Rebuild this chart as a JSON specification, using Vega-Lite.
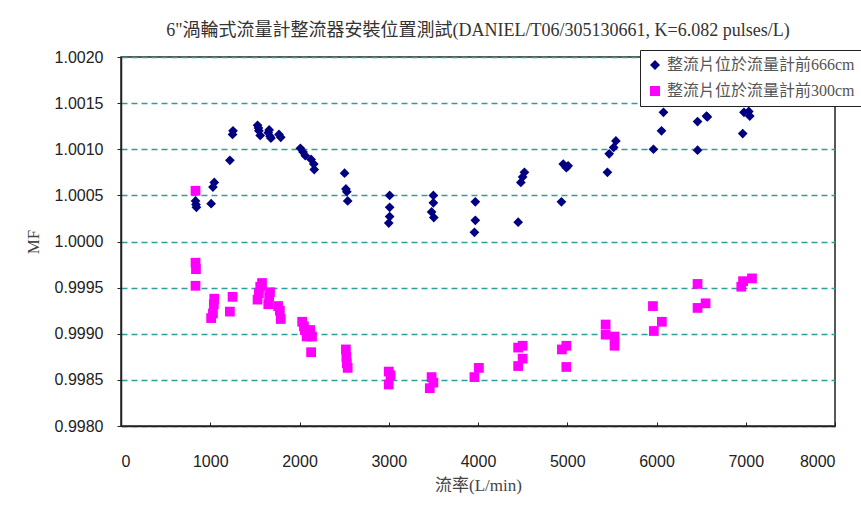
{
  "$schema": "https://vega.github.io/schema/vega-lite/v6.json",
  "autosize": {"type": "none"},
  "width": 714,
  "height": 369,
  "padding": {"left": 121, "top": 57, "right": 26, "bottom": 79},
  "background": "white",
  "title": {
    "text": "6\"渦輪式流量計整流器安裝位置測試(DANIEL/T06/305130661, K=6.082 pulses/L)",
    "font": "Liberation Serif, Noto Sans CJK TC",
    "fontSize": 18,
    "fontWeight": "normal",
    "color": "#333333",
    "anchor": "middle",
    "offset": 9
  },
  "config": {
    "view": {"stroke": "#222222", "strokeWidth": 1.5},
    "axis": {
      "labelFont": "Liberation Sans Narrow, Liberation Sans",
      "labelFontSize": 16,
      "labelColor": "#222222",
      "titleFont": "Liberation Serif, Noto Sans CJK TC",
      "titleFontSize": 17,
      "titleFontWeight": "normal",
      "titleColor": "#444444",
      "domainColor": "#222222",
      "domainWidth": 1.5,
      "tickColor": "#222222"
    }
  },
  "data": {"values": [
    {"q": 835, "mf": 1.00044, "s": "整流片位於流量計前666cm"},
    {"q": 840, "mf": 1.00040, "s": "整流片位於流量計前666cm"},
    {"q": 845, "mf": 1.00037, "s": "整流片位於流量計前666cm"},
    {"q": 1010, "mf": 1.00041, "s": "整流片位於流量計前666cm"},
    {"q": 1030, "mf": 1.00059, "s": "整流片位於流量計前666cm"},
    {"q": 1045, "mf": 1.00064, "s": "整流片位於流量計前666cm"},
    {"q": 1220, "mf": 1.00088, "s": "整流片位於流量計前666cm"},
    {"q": 1250, "mf": 1.00116, "s": "整流片位於流量計前666cm"},
    {"q": 1255, "mf": 1.00120, "s": "整流片位於流量計前666cm"},
    {"q": 1530, "mf": 1.00126, "s": "整流片位於流量計前666cm"},
    {"q": 1540, "mf": 1.00123, "s": "整流片位於流量計前666cm"},
    {"q": 1545, "mf": 1.00120, "s": "整流片位於流量計前666cm"},
    {"q": 1560, "mf": 1.00115, "s": "整流片位於流量計前666cm"},
    {"q": 1650, "mf": 1.00118, "s": "整流片位於流量計前666cm"},
    {"q": 1660, "mf": 1.00121, "s": "整流片位於流量計前666cm"},
    {"q": 1670, "mf": 1.00114, "s": "整流片位於流量計前666cm"},
    {"q": 1680, "mf": 1.00112, "s": "整流片位於流量計前666cm"},
    {"q": 1770, "mf": 1.00116, "s": "整流片位於流量計前666cm"},
    {"q": 1790, "mf": 1.00113, "s": "整流片位於流量計前666cm"},
    {"q": 2010, "mf": 1.00101, "s": "整流片位於流量計前666cm"},
    {"q": 2040, "mf": 1.00097, "s": "整流片位於流量計前666cm"},
    {"q": 2065, "mf": 1.00093, "s": "整流片位於流量計前666cm"},
    {"q": 2130, "mf": 1.00089, "s": "整流片位於流量計前666cm"},
    {"q": 2160, "mf": 1.00084, "s": "整流片位於流量計前666cm"},
    {"q": 2165, "mf": 1.00078, "s": "整流片位於流量計前666cm"},
    {"q": 2505, "mf": 1.00074, "s": "整流片位於流量計前666cm"},
    {"q": 2520, "mf": 1.00057, "s": "整流片位於流量計前666cm"},
    {"q": 2530, "mf": 1.00054, "s": "整流片位於流量計前666cm"},
    {"q": 2540, "mf": 1.00044, "s": "整流片位於流量計前666cm"},
    {"q": 3010, "mf": 1.00050, "s": "整流片位於流量計前666cm"},
    {"q": 3010, "mf": 1.00037, "s": "整流片位於流量計前666cm"},
    {"q": 3010, "mf": 1.00027, "s": "整流片位於流量計前666cm"},
    {"q": 3000, "mf": 1.00020, "s": "整流片位於流量計前666cm"},
    {"q": 3500, "mf": 1.00050, "s": "整流片位於流量計前666cm"},
    {"q": 3500, "mf": 1.00042, "s": "整流片位於流量計前666cm"},
    {"q": 3480, "mf": 1.00032, "s": "整流片位於流量計前666cm"},
    {"q": 3505, "mf": 1.00026, "s": "整流片位於流量計前666cm"},
    {"q": 3970, "mf": 1.00043, "s": "整流片位於流量計前666cm"},
    {"q": 3970, "mf": 1.00023, "s": "整流片位於流量計前666cm"},
    {"q": 3960, "mf": 1.00010, "s": "整流片位於流量計前666cm"},
    {"q": 4450, "mf": 1.00021, "s": "整流片位於流量計前666cm"},
    {"q": 4480, "mf": 1.00064, "s": "整流片位於流量計前666cm"},
    {"q": 4500, "mf": 1.00070, "s": "整流片位於流量計前666cm"},
    {"q": 4520, "mf": 1.00075, "s": "整流片位於流量計前666cm"},
    {"q": 4935, "mf": 1.00043, "s": "整流片位於流量計前666cm"},
    {"q": 4955, "mf": 1.00084, "s": "整流片位於流量計前666cm"},
    {"q": 4990, "mf": 1.00080, "s": "整流片位於流量計前666cm"},
    {"q": 5010, "mf": 1.00082, "s": "整流片位於流量計前666cm"},
    {"q": 5450, "mf": 1.00075, "s": "整流片位於流量計前666cm"},
    {"q": 5470, "mf": 1.00095, "s": "整流片位於流量計前666cm"},
    {"q": 5520, "mf": 1.00102, "s": "整流片位於流量計前666cm"},
    {"q": 5545, "mf": 1.00109, "s": "整流片位於流量計前666cm"},
    {"q": 5966, "mf": 1.00100, "s": "整流片位於流量計前666cm"},
    {"q": 6056, "mf": 1.00120, "s": "整流片位於流量計前666cm"},
    {"q": 6078, "mf": 1.00140, "s": "整流片位於流量計前666cm"},
    {"q": 6460, "mf": 1.00099, "s": "整流片位於流量計前666cm"},
    {"q": 6460, "mf": 1.00130, "s": "整流片位於流量計前666cm"},
    {"q": 6560, "mf": 1.00136, "s": "整流片位於流量計前666cm"},
    {"q": 6570, "mf": 1.00135, "s": "整流片位於流量計前666cm"},
    {"q": 6966, "mf": 1.00117, "s": "整流片位於流量計前666cm"},
    {"q": 6980, "mf": 1.00140, "s": "整流片位於流量計前666cm"},
    {"q": 7034, "mf": 1.00141, "s": "整流片位於流量計前666cm"},
    {"q": 7045, "mf": 1.00136, "s": "整流片位於流量計前666cm"},
    {"q": 835, "mf": 1.00055, "s": "整流片位於流量計前300cm"},
    {"q": 835, "mf": 0.99977, "s": "整流片位於流量計前300cm"},
    {"q": 840, "mf": 0.99970, "s": "整流片位於流量計前300cm"},
    {"q": 835, "mf": 0.99952, "s": "整流片位於流量計前300cm"},
    {"q": 1010, "mf": 0.99917, "s": "整流片位於流量計前300cm"},
    {"q": 1030, "mf": 0.99922, "s": "整流片位於流量計前300cm"},
    {"q": 1040, "mf": 0.99932, "s": "整流片位於流量計前300cm"},
    {"q": 1045, "mf": 0.99938, "s": "整流片位於流量計前300cm"},
    {"q": 1220, "mf": 0.99924, "s": "整流片位於流量計前300cm"},
    {"q": 1250, "mf": 0.99940, "s": "整流片位於流量計前300cm"},
    {"q": 1530, "mf": 0.99937, "s": "整流片位於流量計前300cm"},
    {"q": 1545, "mf": 0.99944, "s": "整流片位於流量計前300cm"},
    {"q": 1560, "mf": 0.99951, "s": "整流片位於流量計前300cm"},
    {"q": 1580, "mf": 0.99955, "s": "整流片位於流量計前300cm"},
    {"q": 1650, "mf": 0.99932, "s": "整流片位於流量計前300cm"},
    {"q": 1660, "mf": 0.99940, "s": "整流片位於流量計前300cm"},
    {"q": 1670, "mf": 0.99945, "s": "整流片位於流量計前300cm"},
    {"q": 1760, "mf": 0.99930, "s": "整流片位於流量計前300cm"},
    {"q": 1780, "mf": 0.99925, "s": "整流片位於流量計前300cm"},
    {"q": 1790, "mf": 0.99916, "s": "整流片位於流量計前300cm"},
    {"q": 2030, "mf": 0.99913, "s": "整流片位於流量計前300cm"},
    {"q": 2050, "mf": 0.99908, "s": "整流片位於流量計前300cm"},
    {"q": 2060, "mf": 0.99904, "s": "整流片位於流量計前300cm"},
    {"q": 2080, "mf": 0.99897, "s": "整流片位於流量計前300cm"},
    {"q": 2120, "mf": 0.99904, "s": "整流片位於流量計前300cm"},
    {"q": 2140, "mf": 0.99897, "s": "整流片位於流量計前300cm"},
    {"q": 2130, "mf": 0.99880, "s": "整流片位於流量計前300cm"},
    {"q": 2520, "mf": 0.99883, "s": "整流片位於流量計前300cm"},
    {"q": 2525, "mf": 0.99875, "s": "整流片位於流量計前300cm"},
    {"q": 2530, "mf": 0.99868, "s": "整流片位於流量計前300cm"},
    {"q": 2540, "mf": 0.99863, "s": "整流片位於流量計前300cm"},
    {"q": 3000, "mf": 0.99859, "s": "整流片位於流量計前300cm"},
    {"q": 3020, "mf": 0.99855, "s": "整流片位於流量計前300cm"},
    {"q": 3000, "mf": 0.99845, "s": "整流片位於流量計前300cm"},
    {"q": 3480, "mf": 0.99853, "s": "整流片位於流量計前300cm"},
    {"q": 3500, "mf": 0.99847, "s": "整流片位於流量計前300cm"},
    {"q": 3460, "mf": 0.99841, "s": "整流片位於流量計前300cm"},
    {"q": 3960, "mf": 0.99853, "s": "整流片位於流量計前300cm"},
    {"q": 4010, "mf": 0.99863, "s": "整流片位於流量計前300cm"},
    {"q": 4450, "mf": 0.99885, "s": "整流片位於流量計前300cm"},
    {"q": 4500, "mf": 0.99887, "s": "整流片位於流量計前300cm"},
    {"q": 4500, "mf": 0.99873, "s": "整流片位於流量計前300cm"},
    {"q": 4450, "mf": 0.99865, "s": "整流片位於流量計前300cm"},
    {"q": 4940, "mf": 0.99883, "s": "整流片位於流量計前300cm"},
    {"q": 4990, "mf": 0.99887, "s": "整流片位於流量計前300cm"},
    {"q": 4990, "mf": 0.99864, "s": "整流片位於流量計前300cm"},
    {"q": 5430, "mf": 0.99910, "s": "整流片位於流量計前300cm"},
    {"q": 5430, "mf": 0.99899, "s": "整流片位於流量計前300cm"},
    {"q": 5530, "mf": 0.99897, "s": "整流片位於流量計前300cm"},
    {"q": 5530, "mf": 0.99887, "s": "整流片位於流量計前300cm"},
    {"q": 5960, "mf": 0.99930, "s": "整流片位於流量計前300cm"},
    {"q": 5970, "mf": 0.99903, "s": "整流片位於流量計前300cm"},
    {"q": 6060, "mf": 0.99913, "s": "整流片位於流量計前300cm"},
    {"q": 6460, "mf": 0.99954, "s": "整流片位於流量計前300cm"},
    {"q": 6460, "mf": 0.99928, "s": "整流片位於流量計前300cm"},
    {"q": 6550, "mf": 0.99933, "s": "整流片位於流量計前300cm"},
    {"q": 6950, "mf": 0.99951, "s": "整流片位於流量計前300cm"},
    {"q": 6970, "mf": 0.99957, "s": "整流片位於流量計前300cm"},
    {"q": 7070, "mf": 0.99960, "s": "整流片位於流量計前300cm"}
  ]},
  "mark": {"type": "point", "filled": true, "opacity": 1, "size": 95},
  "encoding": {
    "x": {
      "field": "q", "type": "quantitative",
      "scale": {"domain": [0, 8000], "nice": false},
      "axis": {
        "title": "流率(L/min)",
        "format": "d",
        "values": [0, 1000, 2000, 3000, 4000, 5000, 6000, 7000, 8000],
        "grid": false,
        "tickSize": -4,
        "labelPadding": 31,
        "titlePadding": 8
      }
    },
    "y": {
      "field": "mf", "type": "quantitative",
      "scale": {"domain": [0.998, 1.002], "nice": false, "zero": false},
      "axis": {
        "title": "MF",
        "format": ".4f",
        "values": [0.998, 0.9985, 0.999, 0.9995, 1.0, 1.0005, 1.001, 1.0015, 1.002],
        "grid": true,
        "gridColor": "#2e9e9a",
        "gridDash": [6, 4],
        "gridWidth": 1.5,
        "tickSize": 4,
        "labelPadding": 14,
        "titlePadding": 12
      }
    },
    "color": {
      "field": "s", "type": "nominal",
      "scale": {
        "domain": ["整流片位於流量計前666cm", "整流片位於流量計前300cm"],
        "range": ["#000080", "#ff00ff"]
      },
      "legend": {
        "title": null,
        "orient": "none",
        "legendX": 519,
        "legendY": -7,
        "fillColor": "white",
        "strokeColor": "#222222",
        "padding": 7,
        "labelFont": "Liberation Serif, Noto Sans CJK TC",
        "labelFontSize": 16,
        "labelColor": "#555555",
        "labelLimit": 300,
        "rowPadding": 10,
        "symbolSize": 100,
        "symbolStrokeWidth": 0
      }
    },
    "shape": {
      "field": "s", "type": "nominal",
      "scale": {
        "domain": ["整流片位於流量計前666cm", "整流片位於流量計前300cm"],
        "range": ["diamond", "square"]
      },
      "legend": null
    }
  }
}
